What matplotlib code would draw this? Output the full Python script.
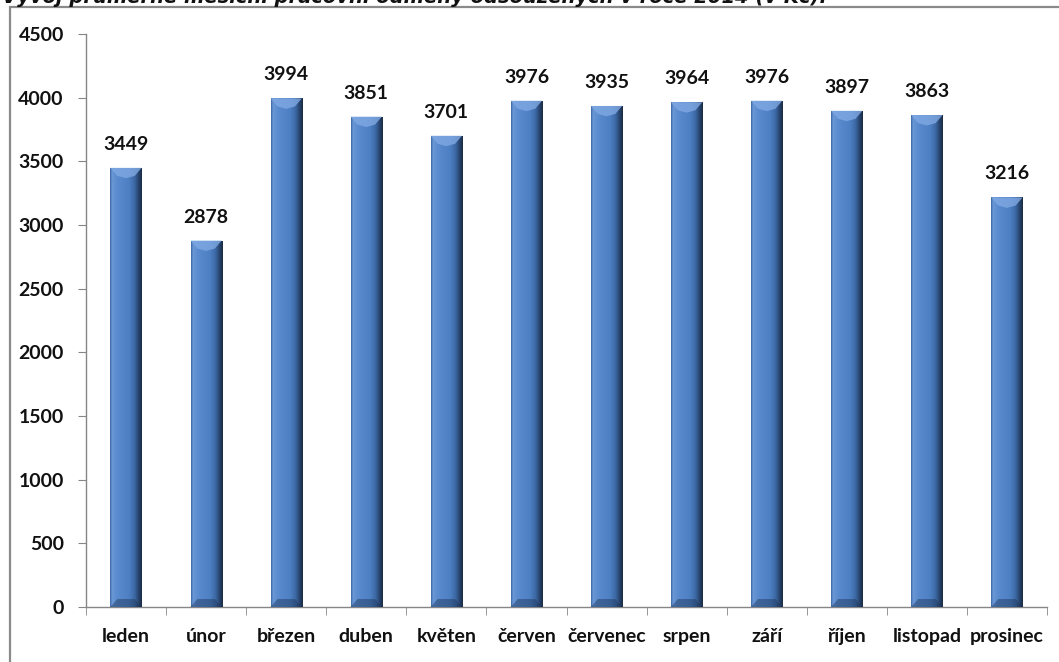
import numpy as np
import matplotlib
matplotlib.use("Agg")
import matplotlib.pyplot as plt
from matplotlib.patches import Rectangle, Polygon
from matplotlib.colors import LinearSegmentedColormap

months = ["leden", "únor", "březen", "duben", "květen", "červen",
          "červenec", "srpen", "září", "říjen", "listopad", "prosinec"]
wages = [3449, 2878, 3994, 3851, 3701, 3976, 3935, 3964, 3976, 3897, 3863, 3216]
y_ticks = [0, 500, 1000, 1500, 2000, 2500, 3000, 3500, 4000, 4500]
title = "Vývoj průměrné měsíční pracovní odměny odsouzených v roce 2014 (v Kč)."

plt.rcParams["font.family"] = ["Lato", "DejaVu Sans"]

W, H = 1059, 662
fig = plt.figure(figsize=(W / 100, H / 100), dpi=100)
ax = fig.add_axes([86 / W, (H - 607) / H, (1047 - 86) / W, (607 - 34) / H])

# title, mostly clipped by the top edge like in the original screenshot
fig.text(2 / W, 1 - 3 / H, title, ha="left", va="baseline", fontsize=14,
         style="italic", weight="bold", family="DejaVu Sans", color="#111111")

# outer frame
fig.patches.append(Rectangle((10 / W, -0.1), 1.2, 1.1 - 7 / H, transform=fig.transFigure,
                             fill=False, edgecolor="#8a8a8a", linewidth=1.6))

x = np.arange(len(months))
bw = 0.39
bars = ax.bar(x, wages, width=bw, color="#4f81c4", zorder=2)

grad = LinearSegmentedColormap.from_list("bevel", [
    (0.0, "#3f6aa6"), (0.06, "#6b98d6"), (0.2, "#5b8ccf"), (0.6, "#4d7fc3"),
    (0.78, "#3c67a3"), (0.92, "#253f66"), (1.0, "#1b2c46")])
img = np.linspace(0, 1, 64).reshape(1, -1)
px_per_unit = (607 - 34) / 4500
d = 8 / px_per_unit
for b in bars:
    x0, x1 = b.get_x(), b.get_x() + b.get_width()
    h = b.get_height()
    im = ax.imshow(img, cmap=grad, extent=[x0, x1, 0, h], aspect="auto", zorder=3)
    im.set_clip_path(b)
    inset = b.get_width() * 0.22
    xc = (x0 + x1) / 2
    ax.add_patch(Polygon([(x0, h), (x1, h), (x1 - inset, h - d), (xc, h - d * 1.3),
                          (x0 + inset, h - d)], closed=True, facecolor="#80a9e2",
                         edgecolor="none", alpha=0.8, zorder=4))
    ax.add_patch(Polygon([(x0, 0), (x1, 0), (x1 - inset, d), (x0 + inset, d)],
                         closed=True, facecolor="#1f3557", edgecolor="none",
                         alpha=0.45, zorder=4))
    ax.text(xc, h + 15 / px_per_unit, f"{h:.0f}", ha="center", va="bottom",
            fontsize=14, weight="bold", color="#111111")

ax.set_xlim(-0.5, len(months) - 0.5)
ax.set_ylim(0, 4500)
ax.set_yticks(y_ticks)
ax.set_yticklabels([str(v) for v in y_ticks], fontsize=14, weight="bold")
ax.set_xticks(x)
ax.set_xticklabels(months, fontsize=14, weight="bold")
ax.set_xticks(np.arange(-0.5, len(months)), minor=True)

for s in ["top", "right"]:
    ax.spines[s].set_visible(False)
for s in ["left", "bottom"]:
    ax.spines[s].set_color("#868686")
    ax.spines[s].set_linewidth(1.0)

ax.tick_params(axis="y", direction="out", length=6, color="#868686", pad=10, labelcolor="#111111")
ax.tick_params(axis="x", which="major", length=0, pad=15, labelcolor="#111111")
ax.tick_params(axis="x", which="minor", direction="out", length=6, color="#868686")

fig.savefig("out.png", dpi=100)
